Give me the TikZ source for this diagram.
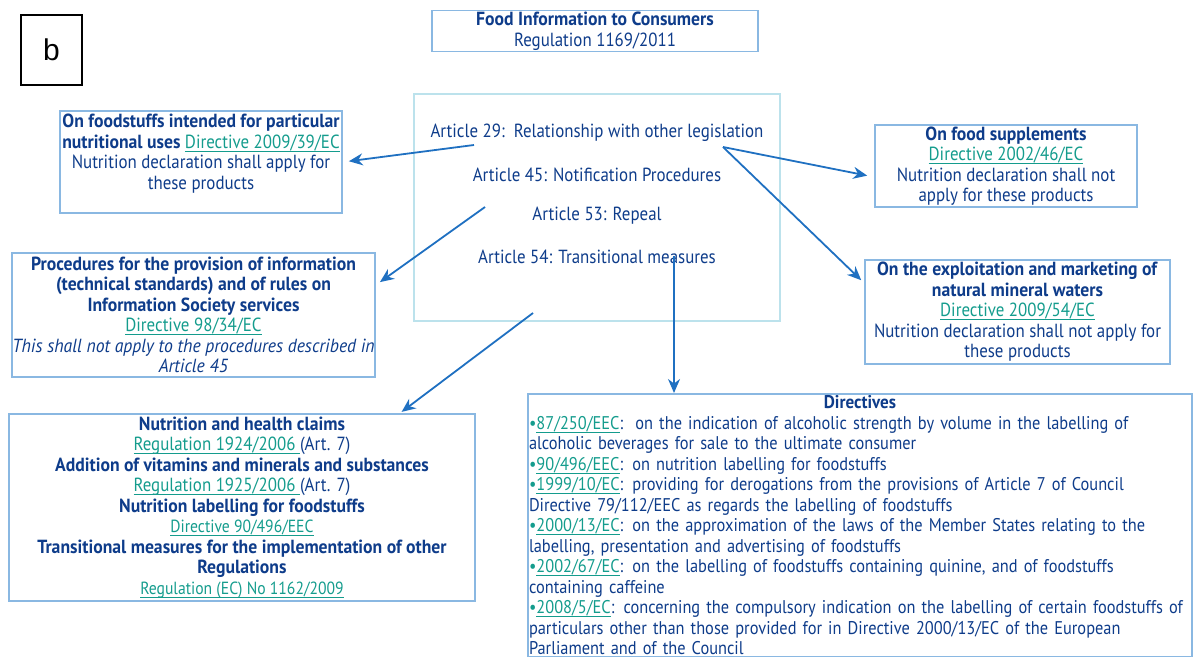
\documentclass[tikz,border=0pt]{standalone}
\usepackage{fontspec}
\setmainfont{PT Sans}[FakeStretch=0.89, BoldFeatures={FakeStretch=0.93},
  ItalicFeatures={FakeStretch=0.93}]
\newfontfamily\fitagfont{Liberation Sans}
\usepackage{xcolor}
\usetikzlibrary{arrows.meta,positioning}
\definecolor{FINavy}{HTML}{0E3C8A}
\definecolor{FITeal}{HTML}{149C8D}
\definecolor{FIFrame}{HTML}{8AB8E2}
\definecolor{FIPale}{HTML}{BCE2EC}
\definecolor{FIArrow}{HTML}{1F70C1}
\newcommand{\firef}[1]{{\color{FITeal}\setbox0=\hbox{#1}%
  \rlap{\rule[-1.6pt]{\wd0}{0.45pt}}\box0}}
\newcommand{\fibul}{{\color{FITeal}\textbullet}}
\newcommand{\fisize}{\fontsize{9.5}{10.25}\selectfont}
\newcommand{\fismall}{\fontsize{8.8}{10.25}\selectfont}
\newcommand{\filistsize}{\fontsize{9.2}{10.25}\selectfont}
\tikzset{
  >={Stealth[length=7pt,width=6pt]},
  fibox/.style={draw=FIFrame, line width=0.9pt, align=center, inner sep=0pt,
    text=FINavy},
  ficore/.style={fibox, draw=FIPale},
  fitext/.style={align=center, inner sep=0pt, text=FINavy},
  filist/.style={fibox, align=left, anchor=north, text width=331pt,
    inner xsep=0.5pt, inner ysep=1pt, font=\filistsize},
  fitag/.style={draw=black, line width=1pt, inner sep=0pt},
  fiarrow/.style={->, line width=0.9pt, draw=FIArrow}
}
\begin{document}
\begin{tikzpicture}[x=0.5pt, y=-0.5pt, font=\fisize]
  \useasboundingbox (0,0) rectangle (1197,657);
  \node[fitag, minimum width=30.5pt, minimum height=35pt,
    font=\fitagfont\fontsize{15}{18}\selectfont] (tag) at (51.5,50) {b};
  \node[fibox, minimum width=163pt, minimum height=20.5pt] (fic) at (595,31)
    {\textbf{Food Information to Consumers}\\Regulation 1169/2011};

  \node[ficore, minimum width=183pt, minimum height=113.5pt] (core) at (597,207.5) {};
  \node[fitext] (art29) at (597,133) {Article 29:\ \ Relationship with other legislation};
  \node[fitext] (art45) at (597,175) {Article 45: Notification Procedures};
  \node[fitext] (art53) at (597,216) {Article 53: Repeal};
  \node[fitext] (art54) at (597,257) {Article 54: Transitional measures};

  \node[fibox, minimum width=141pt, minimum height=51pt] (nutr) at (201,162)
    {\textbf{On foodstuffs intended for particular}\\
     \textbf{nutritional uses} \firef{Directive 2009/39/EC}\\
     Nutrition declaration shall apply for\\these products\\~};
  \node[fibox, minimum width=181.5pt, minimum height=62pt] (infos) at (193.5,315)
    {\textbf{Procedures for the provision of information}\\
     \textbf{(technical standards) and of rules on}\\
     \textbf{Information Society services}\\
     \firef{Directive 98/34/EC}\\
     \textit{This shall not apply to the procedures described in}\\
     \textit{Article 45}};
  \node[fibox, minimum width=233pt, minimum height=93.5pt] (claims) at (242,507.5)
    {\textbf{Nutrition and health claims}\\
     \firef{Regulation 1924/2006\ }(Art. 7)\\
     \textbf{Addition of vitamins and minerals and substances}\\
     \firef{Regulation 1925/2006\ }(Art. 7)\\
     \textbf{Nutrition labelling for foodstuffs}\\
     {\fismall\firef{Directive 90/496/EEC}}\\
     \textbf{Transitional measures for the implementation of other}\\
     \textbf{Regulations}\\
     {\fismall\firef{Regulation (EC) No 1162/2009}}};

  \node[fibox, minimum width=131pt, minimum height=41pt] (suppl) at (1006,166)
    {\textbf{On food supplements}\\
     \firef{Directive 2002/46/EC}\\
     Nutrition declaration shall not\\apply for these products};
  \node[fibox, minimum width=152.5pt, minimum height=52pt] (water) at (1017.5,312)
    {\textbf{On the exploitation and marketing of}\\
     \textbf{natural mineral waters}\\
     \firef{Directive 2009/54/EC}\\
     Nutrition declaration shall not apply for\\these products};
  \node[filist] (dirs) at (860,393)
    {\makebox[\linewidth]{\bfseries Directives}\\
     \fibul\firef{87/250/EEC}:\ \ on the indication of alcoholic strength by volume in the labelling of\\
     alcoholic beverages for sale to the ultimate consumer\\
     \fibul\firef{90/496/EEC}: on nutrition labelling for foodstuffs\\
     \fibul\firef{1999/10/EC}: providing for derogations from the provisions of Article 7 of Council\\
     Directive 79/112/EEC as regards the labelling of foodstuffs\\
     \fibul\firef{2000/13/EC}: on the approximation of the laws of the Member States relating to the\\
     labelling, presentation and advertising of foodstuffs\\
     \fibul\firef{2002/67/EC}: on the labelling of foodstuffs containing quinine, and of foodstuffs\\
     containing caffeine\\
     \fibul\firef{2008/5/EC}: concerning the compulsory indication on the labelling of certain foodstuffs of\\
     particulars other than those provided for in Directive 2000/13/EC of the European\\
     Parliament and of the Council};

  \coordinate (from29w) at (474,145);
  \coordinate (from29e) at (723,147);
  \coordinate (from45) at (485,207);
  \coordinate (fromcore) at (533,313);
  \coordinate (from54) at (674,256);

  \draw[fiarrow, shorten >=3pt] (from29w) -- (nutr.east);
  \draw[fiarrow, shorten >=3.5pt] (from29e) -- ([yshift=-5.5pt]suppl.west);
  \draw[fiarrow, shorten >=2pt] (from29e) -- ([yshift=14.5pt]water.west);
  \draw[fiarrow, shorten >=2.5pt] (from45) -- ([yshift=15pt]infos.east);
  \draw[fiarrow, shorten >=1pt] (fromcore) -- ([xshift=79pt]claims.north);
  \draw[fiarrow] (from54) -- ([xshift=-93pt]dirs.north);
\end{tikzpicture}
\end{document}
